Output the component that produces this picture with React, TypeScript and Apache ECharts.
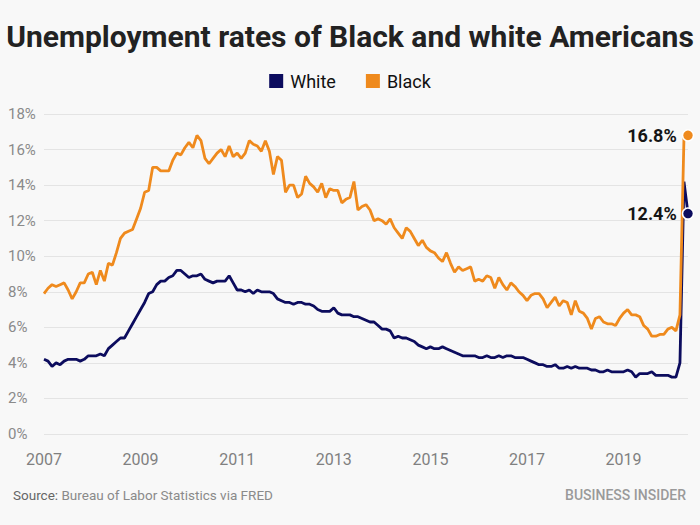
import React, { useEffect, useRef } from "react";
import * as echarts from "echarts";

const YEARS = [2007, 2008, 2009, 2010, 2011, 2012, 2013, 2014, 2015, 2016, 2017, 2018, 2019, 2020];
const MONTHS = ["01", "02", "03", "04", "05", "06", "07", "08", "09", "10", "11", "12"];
const X_LABEL_YEARS = ["2007", "2009", "2011", "2013", "2015", "2017", "2019"];

// Monthly unemployment rate (%), Jan 2007 – May 2020
const WHITE = [
  4.2, 4.1, 3.8, 4.0, 3.9, 4.1, 4.2, 4.2, 4.2, 4.1, 4.2, 4.4,
  4.4, 4.4, 4.5, 4.4, 4.8, 5.0, 5.2, 5.4, 5.4, 5.8, 6.2, 6.6,
  7.0, 7.4, 7.9, 8.0, 8.4, 8.6, 8.6, 8.8, 8.9, 9.2, 9.2, 9.0,
  8.8, 8.9, 8.9, 9.0, 8.7, 8.6, 8.5, 8.6, 8.6, 8.6, 8.9, 8.5,
  8.1, 8.1, 8.0, 8.1, 7.9, 8.1, 8.0, 8.0, 8.0, 7.9, 7.6, 7.5,
  7.4, 7.4, 7.3, 7.4, 7.4, 7.3, 7.3, 7.2, 7.0, 6.9, 6.9, 6.9,
  7.1, 6.8, 6.7, 6.7, 6.7, 6.6, 6.6, 6.5, 6.4, 6.3, 6.3, 6.1,
  5.9, 5.9, 5.8, 5.4, 5.5, 5.4, 5.4, 5.3, 5.2, 5.0, 4.9, 4.8,
  4.9, 4.8, 4.8, 4.9, 4.8, 4.7, 4.6, 4.5, 4.4, 4.4, 4.4, 4.4,
  4.3, 4.3, 4.4, 4.3, 4.3, 4.4, 4.3, 4.4, 4.4, 4.3, 4.3, 4.3,
  4.2, 4.1, 4.0, 3.9, 3.9, 3.8, 3.8, 3.9, 3.7, 3.7, 3.8, 3.7,
  3.8, 3.7, 3.7, 3.7, 3.6, 3.6, 3.5, 3.5, 3.6, 3.5, 3.5, 3.5,
  3.5, 3.6, 3.5, 3.2, 3.4, 3.4, 3.4, 3.5, 3.3, 3.3, 3.3, 3.3,
  3.2, 3.2, 4.0, 14.2, 12.4,
];

const BLACK = [
  7.9, 8.2, 8.4, 8.3, 8.4, 8.5, 8.1, 7.6, 8.0, 8.5, 8.5, 9.0,
  9.1, 8.4, 9.2, 8.6, 9.6, 9.5, 10.2, 11.0, 11.3, 11.4, 11.5, 12.1,
  12.7, 13.6, 13.7, 15.0, 15.0, 14.8, 14.8, 14.8, 15.4, 15.8, 15.7, 16.1,
  16.4, 16.1, 16.8, 16.5, 15.5, 15.2, 15.5, 15.8, 16.0, 15.6, 16.2, 15.6,
  15.8, 15.5, 15.8, 16.5, 16.3, 16.2, 15.9, 16.5, 15.9, 14.6, 15.6, 15.4,
  13.6, 14.0, 14.0, 13.3, 13.5, 14.5, 14.1, 13.9, 13.6, 14.1, 13.3, 13.8,
  13.7, 13.7, 13.0, 13.2, 13.3, 14.2, 12.6, 12.8, 12.9, 12.6, 12.0, 12.1,
  12.0, 11.8, 12.1, 11.6, 11.3, 11.0, 11.6, 11.4, 11.0, 10.6, 10.9, 10.5,
  10.3, 10.2, 9.9, 9.7, 10.2, 9.6, 9.1, 9.4, 9.2, 9.3, 9.4, 8.6,
  8.7, 8.6, 8.9, 8.8, 8.2, 8.8, 8.4, 8.1, 8.5, 8.3, 8.0, 7.8,
  7.5, 7.8, 7.9, 7.9, 7.6, 7.1, 7.4, 7.7, 7.2, 7.5, 7.4, 6.7,
  7.5, 6.9, 6.8, 6.5, 5.9, 6.5, 6.6, 6.3, 6.2, 6.2, 6.1, 6.5,
  6.8, 7.0, 6.7, 6.7, 6.6, 6.1, 5.9, 5.5, 5.5, 5.6, 5.6, 5.9,
  6.0, 5.8, 6.7, 16.7, 16.8,
];

const WHITE_COLOR = "#0c0c5e";
const BLACK_COLOR = "#ef8a1d";

const CATEGORIES: string[] = [];
for (const y of YEARS) {
  for (const m of MONTHS) {
    if (CATEGORIES.length < WHITE.length) CATEGORIES.push(`${y}-${m}`);
  }
}

function endPoint(values: number[], color: string) {
  const last = values.length - 1;
  return {
    symbol: "circle",
    symbolSize: 11,
    silent: true,
    itemStyle: { color, borderColor: "#ffffff", borderWidth: 1.5 },
    label: {
      show: true,
      position: "left",
      distance: 5,
      formatter: () => `${values[last].toFixed(1)}%`,
      fontFamily: "Roboto",
      fontSize: 18,
      fontWeight: "bold",
      color: "#151515",
    },
    data: [{ coord: [CATEGORIES[last], values[last]], value: values[last] }],
  };
}

export default function App() {
  const ref = useRef<HTMLDivElement>(null);
  useEffect(() => {
    if (!ref.current) return;
    const chart = echarts.init(ref.current, undefined, { renderer: "svg" });
    chart.setOption({
      animation: false,
      backgroundColor: "#f8f8f8",
      textStyle: { fontFamily: "Roboto" },
      title: {
        text: "Unemployment rates of Black and white Americans",
        left: "center",
        top: 16,
        textStyle: { fontFamily: "Roboto", fontSize: 30, fontWeight: "bold", color: "#222222" },
      },
      legend: {
        top: 67,
        left: "center",
        icon: "rect",
        itemWidth: 14,
        itemHeight: 14,
        itemGap: 30,
        selectedMode: false,
        textStyle: { fontFamily: "Roboto", fontSize: 18, color: "#111111", padding: [0, 0, 0, 2] },
        data: ["White", "Black"],
      },
      grid: { left: 44, right: 12, top: 114, bottom: 91, containLabel: false },
      xAxis: {
        type: "category",
        data: CATEGORIES,
        boundaryGap: false,
        axisLine: { show: false },
        axisTick: { show: false },
        splitLine: { show: false },
        axisLabel: {
          interval: (_i: number, v: string) => v.endsWith("-01") && X_LABEL_YEARS.includes(v.slice(0, 4)),
          formatter: (v: string) => v.slice(0, 4),
          color: "#808080",
          fontSize: 16,
          margin: 17,
        },
      },
      yAxis: {
        type: "value",
        min: 0,
        max: 18,
        interval: 2,
        axisLine: { show: false },
        axisTick: { show: false },
        axisLabel: {
          formatter: "{value}%",
          color: "#8a8a8a",
          fontSize: 15,
          align: "left",
          margin: 36,
        },
        splitLine: { lineStyle: { color: "#e4e4e4", width: 1 } },
      },
      series: [
        {
          name: "White",
          type: "line",
          data: WHITE,
          showSymbol: false,
          color: WHITE_COLOR,
          lineStyle: { color: WHITE_COLOR, width: 2.8 },
          markPoint: endPoint(WHITE, WHITE_COLOR),
          z: 2,
        },
        {
          name: "Black",
          type: "line",
          data: BLACK,
          showSymbol: false,
          color: BLACK_COLOR,
          lineStyle: { color: BLACK_COLOR, width: 2.8 },
          markPoint: endPoint(BLACK, BLACK_COLOR),
          z: 3,
        },
      ],
      graphic: [
        {
          type: "text",
          left: 13,
          top: 488,
          style: {
            text: "{a|Source:} {b|Bureau of Labor Statistics via FRED}",
            rich: {
              a: { fontFamily: "Roboto", fontSize: 13.5, fill: "#666666" },
              b: { fontFamily: "Roboto", fontSize: 13.5, fill: "#8a8a8a" },
            },
          },
        },
        {
          type: "text",
          right: 14,
          top: 488,
          style: {
            text: "BUSINESS INSIDER",
            fontFamily: "Roboto",
            fontSize: 14,
            fontWeight: 500,
            fill: "#9a9a9a",
          },
        },
      ],
    });
    return () => chart.dispose();
  }, []);
  return (
    <div
      ref={ref}
      style={{ position: "fixed", left: 0, top: 0, width: 700, height: 525 }}
    />
  );
}
